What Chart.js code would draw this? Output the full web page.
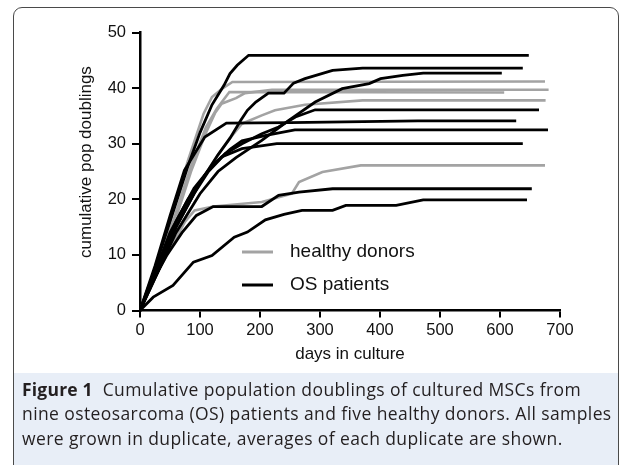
<!DOCTYPE html>
<html>
<head>
<meta charset="utf-8">
<script src="https://cdn.jsdelivr.net/npm/chart.js@4"></script>
<style>
  html,body{margin:0;padding:0;background:#fff;}
  body{width:632px;height:465px;overflow:hidden;position:relative;}
  #capbg{position:absolute;left:14px;top:373px;width:605px;height:120px;background:#e8eef7;}
  #frame{position:absolute;left:13px;top:7px;width:606px;height:520px;border:1px solid #4a4a4a;border-radius:9px;box-sizing:border-box;}
  #wrap{position:absolute;left:0;top:0;width:632px;height:465px;}
  #caption{position:absolute;left:22px;top:376.5px;font-family:"Open Sans",sans-serif;font-size:17.5px;letter-spacing:0.4px;line-height:24.5px;color:#231f20;white-space:nowrap;}
  #caption b{font-weight:700;letter-spacing:0.2px;}
</style>
</head>
<body>
<div id="capbg"></div>
<div id="wrap"><canvas id="c" width="632" height="465"></canvas></div>
<div id="frame"></div>
<div id="caption"><b>Figure 1</b>&nbsp; Cumulative population doublings of cultured MSCs from<br>nine osteosarcoma (OS) patients and five healthy donors. All samples<br>were grown in duplicate, averages of each duplicate are shown.</div>
<script>
// ---- data: [days in culture, cumulative population doublings] ----
const xTicks = [0, 100, 200, 300, 400, 500, 600, 700];
const yTicks = [0, 10, 20, 30, 40, 50];
const legendLabels = ["healthy donors", "OS patients"];

// healthy donors (grey)
const donor1 = [[0,0],[20,6],[50,16],[80,27],[106,35.4],[120,38.4],[137,39.9],[154,41.1],[675,41.2]];
const donor2 = [[0,0],[25,6.5],[55,15],[85,25],[110,32],[125,35.5],[136,37.2],[160,38.2],[175,39.1],[220,39.7],[681,39.7]];
const donor3 = [[0,0],[25,7],[55,16],[85,26],[110,33],[128,36.3],[149,39.3],[607,39.2]];
const donor4 = [[0,0],[30,8],[60,15],[100,23],[130,28],[150,31],[170,33.6],[203,35.1],[225,36],[275,37],[371,37.8],[676,37.8]];
const donor5 = [[0,0],[20,5],[50,11],[75,16],[91,18],[122,18.7],[203,19.5],[253,21],[265,23.1],[304,24.9],[368,26.1],[675,26.1]];

// osteosarcoma patients (black)
const patient1 = [[0,0],[20,6],[50,16],[80,26],[100,32],[120,37],[140,40.5],[150,42.6],[162,44.1],[181,45.9],[648,45.9]];
const patient2 = [[0,0],[30,7],[60,15],[100,23],[130,28],[150,31],[168,34.2],[179,36],[193,37.5],[214,39.1],[240,39.1],[256,40.9],[275,41.7],[321,43.2],[371,43.6],[638,43.6]];
const patient3 = [[0,0],[30,7],[60,14],[100,21],[130,25],[160,27.5],[203,30.6],[248,34.2],[292,37.5],[337,39.9],[382,40.8],[401,41.7],[438,42.3],[472,42.7],[603,42.7]];
const patient4 = [[0,0],[30,7.5],[60,15],[90,21],[114,25],[142,28.2],[170,30],[203,31.8],[231,33],[259,34.8],[292,36.1],[665,36.1]];
const patient5 = [[0,0],[25,8],[50,17],[74,25.2],[108,31.2],[144,33.7],[250,33.8],[463,34.1],[627,34.1]];
const patient6 = [[0,0],[30,8],[60,16],[90,22],[120,26],[150,29],[170,30.5],[210,31.5],[258,32.5],[680,32.5]];
const patient7 = [[0,0],[25,7],[50,14],[80,20],[114,25.2],[136,27.6],[170,29.1],[228,30],[638,30]];
const patient8 = [[0,0],[20,5],[45,10],[70,14],[94,17.1],[122,18.7],[203,18.7],[231,20.7],[265,21.3],[321,21.9],[653,21.9]];
const patient9 = [[0,0],[22,2.4],[55,4.5],[89,8.7],[120,9.9],[157,13.2],[179,14.1],[209,16.3],[240,17.3],[270,18],[321,18],[343,18.9],[427,18.9],[472,19.9],[645,19.9]];

const donors = [donor1, donor2, donor3, donor4, donor5];
const patients = [patient1, patient2, patient3, patient4, patient5, patient6, patient7, patient8, patient9];

const GREY = '#a3a3a3';
const BLACK = '#000000';
const toXY = arr => arr.map(p => ({x: p[0], y: p[1]}));

const datasets = [];
donors.forEach((d, i) => datasets.push({
  label: legendLabels[0] + ' ' + (i + 1), data: toXY(d), borderColor: GREY, backgroundColor: GREY,
  borderWidth: 2.6, pointRadius: 0, tension: 0, fill: false, order: 2
}));
patients.forEach((d, i) => datasets.push({
  label: legendLabels[1] + ' ' + (i + 1), data: toXY(d), borderColor: BLACK, backgroundColor: BLACK,
  borderWidth: 2.8, pointRadius: 0, tension: 0, fill: false, order: 1
}));

const legendPlugin = {
  id: 'insideLegend',
  afterDatasetsDraw(chart) {
    const ctx = chart.ctx;
    const items = [{label: legendLabels[0], color: GREY, y: 252}, {label: legendLabels[1], color: BLACK, y: 285}];
    ctx.save();
    items.forEach(it => {
      ctx.strokeStyle = it.color;
      ctx.lineWidth = 3;
      ctx.beginPath();
      ctx.moveTo(242, it.y);
      ctx.lineTo(273, it.y);
      ctx.stroke();
      ctx.fillStyle = '#111';
      ctx.font = '19px "Liberation Sans", Arial, sans-serif';
      ctx.textBaseline = 'middle';
      ctx.textAlign = 'left';
      ctx.fillText(it.label, 290, it.y);
    });
    ctx.restore();
  }
};

const tickFont = {family: '"Liberation Sans", Arial, sans-serif', size: 16.5};
const titleFont = {family: '"Liberation Sans", Arial, sans-serif', size: 17};

new Chart(document.getElementById('c'), {
  type: 'line',
  data: {datasets},
  options: {
    responsive: false,
    animation: false,
    devicePixelRatio: 1,
    layout: {padding: {left: 72, right: 72, top: 32.5, bottom: 96}},
    plugins: {legend: {display: false}, tooltip: {enabled: false}},
    scales: {
      x: {
        type: 'linear', min: 0, max: 700,
        afterBuildTicks: s => { s.ticks = xTicks.map(v => ({value: v})); },
        afterFit: s => { s.height = 58.5; },
        ticks: {color: '#111', font: tickFont, padding: 3, maxRotation: 0},
        grid: {display: true, drawOnChartArea: false, drawTicks: true, tickLength: 7, color: '#000', lineWidth: 2},
        border: {display: true, color: '#000', width: 2.5},
        title: {display: true, text: 'days in culture', color: '#111', font: titleFont, padding: {top: 4, bottom: 4}}
      },
      y: {
        type: 'linear', min: 0, max: 50,
        afterBuildTicks: s => { s.ticks = yTicks.map(v => ({value: v})); },
        afterFit: s => { s.width = 68; },
        ticks: {color: '#111', font: tickFont, padding: 6},
        grid: {display: true, drawOnChartArea: false, drawTicks: true, tickLength: 8, color: '#000', lineWidth: 2},
        border: {display: true, color: '#000', width: 2.5},
        title: {display: true, text: '    cumulative pop doublings', color: '#111', font: titleFont, padding: {top: 4, bottom: 4}}
      }
    }
  },
  plugins: [legendPlugin]
});
</script>
</body>
</html>
